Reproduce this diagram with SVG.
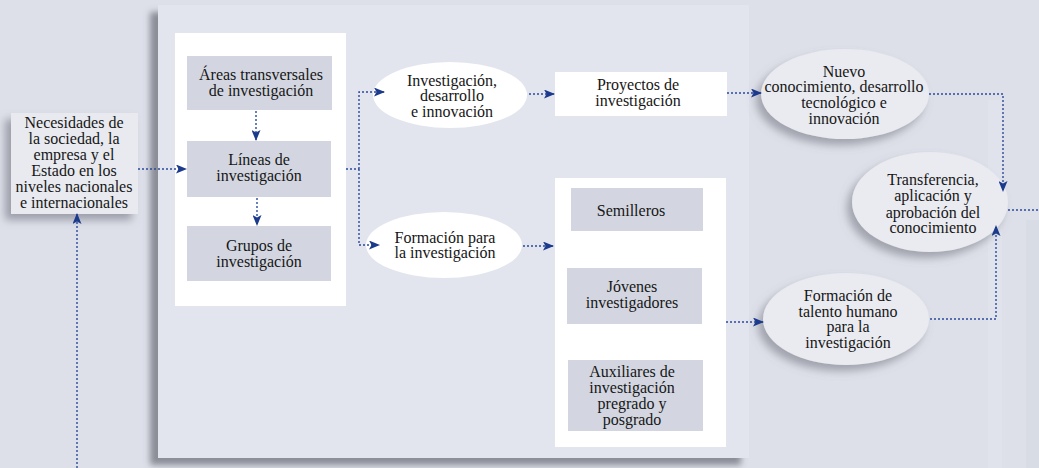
<svg xmlns="http://www.w3.org/2000/svg" width="1039" height="468" viewBox="0 0 1039 468" font-family="'Liberation Serif', 'Times New Roman', Times, serif">
<defs>
<filter id="sh" x="-20%" y="-20%" width="140%" height="140%"><feDropShadow dx="-8" dy="7" stdDeviation="3" flood-color="#6e717c" flood-opacity="0.75"/></filter>
<filter id="sh2" x="-20%" y="-20%" width="140%" height="140%"><feDropShadow dx="-6" dy="6" stdDeviation="4" flood-color="#70737e" flood-opacity="0.6"/></filter>
<filter id="sh3" x="-30%" y="-30%" width="160%" height="160%"><feDropShadow dx="-5" dy="6" stdDeviation="4" flood-color="#6e717c" flood-opacity="0.55"/></filter>
<marker id="ah" markerWidth="11" markerHeight="9" refX="10" refY="4.5" orient="auto" markerUnits="userSpaceOnUse"><path d="M0,0 L11,4.5 L0,9 L2.5,4.5 Z" fill="#1b3a8c"/></marker>
</defs>
<style>
text{font-family:'Liberation Serif','Times New Roman',Times,serif;font-size:16px;fill:#161616;text-anchor:middle}
.gb{fill:#d3d6e1}
.wb{fill:#ffffff}
.el{fill:#eaebf1}
.c{fill:none;stroke:#2b4a9c;stroke-width:1.4;stroke-dasharray:2 2}
.ca{fill:none;stroke:#2b4a9c;stroke-width:1.4;stroke-dasharray:2 2;marker-end:url(#ah)}
</style>
<rect width="1039" height="468" fill="#dde0e9"/>
<rect x="988" y="100" width="14" height="368" fill="#e1e4ec" opacity="0.7"/>
<rect x="1026" y="220" width="13" height="248" fill="#d6d9e2" opacity="0.6"/>
<g id="panel"><rect x="158" y="5" width="591" height="453" fill="#e2e5ee" filter="url(#sh)"/></g>
<g id="leftPanel"><rect x="175" y="33" width="171" height="273" class="wb"/></g>
<g id="rightPanel"><rect x="555" y="178" width="171" height="269" class="wb"/></g>
<g id="necesidades"><rect x="11" y="113" width="127" height="101" fill="#e8eaf0" filter="url(#sh2)"/>
<text x="74" y="128">Necesidades de</text><text x="74" y="144">la sociedad, la</text><text x="74" y="160">empresa y el</text><text x="74" y="176">Estado en los</text><text x="74" y="192">niveles nacionales</text><text x="74" y="208">e internacionales</text></g>
<g id="areas"><rect x="187" y="56" width="145" height="54" class="gb"/><text x="261" y="80">Áreas transversales</text><text x="261" y="96">de investigación</text></g>
<g id="lineas"><rect x="187" y="141" width="144" height="56" class="gb"/><text x="259" y="165">Líneas de</text><text x="259" y="181">investigación</text></g>
<g id="grupos"><rect x="187" y="226" width="144" height="55" class="gb"/><text x="259" y="251">Grupos de</text><text x="259" y="267">investigación</text></g>
<g id="idi"><ellipse cx="450" cy="95" rx="77" ry="33" class="wb"/><text x="452" y="86">Investigación,</text><text x="452" y="101">desarrollo</text><text x="452" y="117">e innovación</text></g>
<g id="proyectos"><rect x="555" y="72" width="172" height="44" class="wb"/><text x="638" y="90">Proyectos de</text><text x="638" y="106">investigación</text></g>
<g id="formacion"><ellipse cx="444" cy="245" rx="78" ry="33" class="wb"/><text x="445" y="243">Formación para</text><text x="445" y="258">la investigación</text></g>
<g id="semilleros"><rect x="571" y="188" width="132" height="43" class="gb"/><text x="631" y="216">Semilleros</text></g>
<g id="jovenes"><rect x="567" y="268" width="135" height="56" class="gb"/><text x="632" y="292">Jóvenes</text><text x="632" y="308">investigadores</text></g>
<g id="auxiliares"><rect x="568" y="360" width="135" height="71" class="gb"/><text x="632" y="377">Auxiliares de</text><text x="632" y="393">investigación</text><text x="632" y="409">pregrado y</text><text x="632" y="425">posgrado</text></g>
<g id="nuevo"><ellipse cx="845" cy="94" rx="84" ry="45" class="el" filter="url(#sh3)"/><text x="844" y="77">Nuevo</text><text x="844" y="92">conocimiento, desarrollo</text><text x="844" y="108">tecnológico e</text><text x="844" y="124">innovación</text></g>
<g id="transferencia"><ellipse cx="930" cy="202" rx="78" ry="50" class="el" filter="url(#sh3)"/><text x="933" y="185">Transferencia,</text><text x="933" y="201">aplicación y</text><text x="933" y="218">aprobación del</text><text x="933" y="233">conocimiento</text></g>
<g id="talento"><ellipse cx="846" cy="319" rx="83" ry="46" class="el" filter="url(#sh3)"/><text x="848" y="301">Formación de</text><text x="848" y="317">talento humano</text><text x="848" y="332">para la</text><text x="848" y="348">investigación</text></g>
<g id="connectors">
<path class="ca" d="M138,169 H186"/>
<path class="ca" d="M256,111 V140"/>
<path class="ca" d="M257,198 V225"/>
<path class="c" d="M346,169 H359"/>
<path class="ca" d="M359,169 V92 H384"/>
<path class="ca" d="M359,169 V245 H379"/>
<path class="ca" d="M529,94 H554"/>
<path class="ca" d="M523,246 H553"/>
<path class="ca" d="M727,93 H761"/>
<path class="ca" d="M726,322 H763"/>
<path class="ca" d="M929,94 H1003 V191"/>
<path class="ca" d="M930,319 H996 V226"/>
<path class="c" d="M1008,210 H1039"/>
<path class="ca" d="M77,468 V214"/>
</g>
</svg>
